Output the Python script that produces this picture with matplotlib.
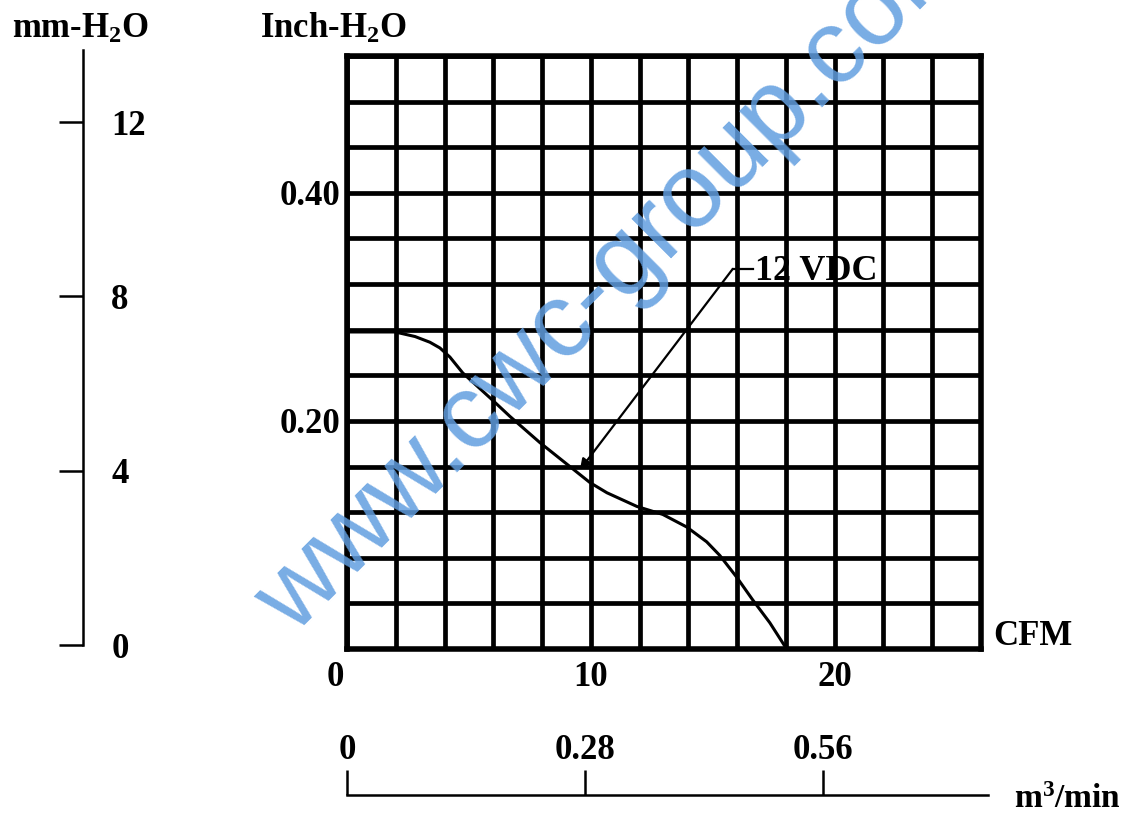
import matplotlib
matplotlib.use('Agg')
import matplotlib.pyplot as plt
import matplotlib.transforms as mtransforms
from matplotlib.ticker import MultipleLocator

# ---- data ----
cfm = [0, 1.97, 2.79, 3.40, 3.81, 4.22, 4.75, 5.98, 6.68, 7.91, 9.14, 9.96,
       10.66, 11.89, 12.95, 13.93, 14.75, 15.29, 15.98, 16.64, 17.34, 18.03]
inch_h2o = [0.278, 0.278, 0.274, 0.269, 0.264, 0.256, 0.242, 0.218, 0.204,
            0.181, 0.160, 0.146, 0.137, 0.125, 0.118, 0.107, 0.094, 0.082,
            0.063, 0.043, 0.023, 0.0]
series_label = '12 VDC'
cfm_ticks = [0, 10, 20]
cfm_labels = ['0', '10', '20']
inch_ticks = [0.20, 0.40]
inch_labels = ['0.20', '0.40']
mm_ticks = [0, 4, 8, 12]
mm_labels = ['0', '4', '8', '12']
m3_ticks = [0, 0.28, 0.56]
m3_labels = ['0', '0.28', '0.56']
watermark = 'www.cwc-group.com'

plt.rcParams['font.family'] = ['Liberation Serif', 'DejaVu Serif']
plt.rcParams['font.weight'] = 'bold'
plt.rcParams['mathtext.fontset'] = 'custom'
plt.rcParams['mathtext.rm'] = 'Liberation Serif:bold'
plt.rcParams['mathtext.it'] = 'Liberation Serif:bold:italic'
plt.rcParams['mathtext.bf'] = 'Liberation Serif:bold'

W, H = 1134, 814
FS = 25
fig = plt.figure(figsize=(W / 100, H / 100), dpi=100)


def rect(x0, y0, x1, y1):
    return [x0 / W, 1 - y1 / H, (x1 - x0) / W, (y1 - y0) / H]


def px(x, y):
    return x / W, 1 - y / H


# ---- main grid axes ----
ax = fig.add_axes(rect(347, 56, 981, 649))
ax.set_xlim(0, 26)
ax.set_ylim(0, 0.52)
ax.xaxis.set_minor_locator(MultipleLocator(2))
ax.yaxis.set_minor_locator(MultipleLocator(0.04))
ax.set_xticks(cfm_ticks)
ax.set_yticks(inch_ticks)
ax.set_yticklabels(inch_labels, fontsize=FS, fontweight='bold')
ax.set_xticklabels([])
ax.grid(which='both', color='black', lw=3.4)
ax.tick_params(which='both', length=0)
ax.tick_params(axis='y', pad=5)
for s in ax.spines.values():
    s.set_linewidth(4)
    s.set_color('black')

ax.plot(cfm, inch_h2o, color='black', lw=2.2, zorder=3,
        solid_capstyle='round', solid_joinstyle='round')

# CFM labels under the grid
blend = mtransforms.blended_transform_factory(ax.transData, ax.transAxes)
offsets = [-12, 0, 0]
for v, lab, dx in zip(cfm_ticks, cfm_labels, offsets):
    tr = blend + mtransforms.ScaledTranslation(dx / 100, -28 / 100, fig.dpi_scale_trans)
    ax.text(v, 0, lab, transform=tr, ha='center', va='center',
            fontsize=FS, fontweight='bold', clip_on=False)

# annotation
ax.annotate('', xy=(9.55, 0.157), xytext=(15.82, 0.3333),
            arrowprops=dict(arrowstyle='-|>', color='black', lw=1.6,
                            mutation_scale=16, shrinkA=0, shrinkB=0),
            zorder=4)
ax.plot([15.82, 16.64], [0.3333, 0.3333], color='black', lw=1.6, zorder=4)
ax.text(16.72, 0.3307, series_label, ha='left', va='center', fontsize=FS + 1,
        fontweight='bold', zorder=5)

# ---- left mm-H2O axis ----
axm = fig.add_axes(rect(83, 50, 103, 645))
axm.set_ylim(0, (645 - 50) / 43.58)
axm.set_xlim(0, 1)
axm.patch.set_visible(False)
for k in ['top', 'right', 'bottom']:
    axm.spines[k].set_visible(False)
axm.spines['left'].set_linewidth(1.8)
axm.set_xticks([])
axm.set_yticks(mm_ticks)
axm.set_yticklabels(mm_labels, fontsize=FS, fontweight='bold')
axm.tick_params(axis='y', direction='out', length=17, width=1.8,
                left=True, right=False, labelleft=False, labelright=True, pad=-11)
for lab in axm.get_yticklabels():
    lab.set_horizontalalignment('left')

# ---- bottom m3/min axis ----
ax3 = fig.add_axes(rect(347, 770, 988, 795))
ax3.set_xlim(0, (988 - 347) / 850)
ax3.set_ylim(0, 1)
ax3.patch.set_visible(False)
for k in ['top', 'right', 'left']:
    ax3.spines[k].set_visible(False)
ax3.spines['bottom'].set_linewidth(1.8)
ax3.set_yticks([])
ax3.set_xticks(m3_ticks)
ax3.set_xticklabels(m3_labels, fontsize=FS, fontweight='bold')
ax3.tick_params(axis='x', direction='in', length=18, width=1.8,
                bottom=True, top=False, labelbottom=False, labeltop=True, pad=2)

# ---- axis titles ----
fig.text(*px(12, 38), 'mm-H$_2$O', ha='left', va='baseline', fontsize=FS, fontweight='bold')
fig.text(*px(260, 38), 'Inch-H$_2$O', ha='left', va='baseline', fontsize=FS, fontweight='bold')
fig.text(*px(993, 645), 'CFM', ha='left', va='baseline', fontsize=FS, fontweight='bold')
fig.text(*px(1014, 808), 'm$^3$/min', ha='left', va='baseline', fontsize=FS - 1, fontweight='bold')

# ---- watermark ----
fig.text(*px(294, 636), watermark, rotation=45, rotation_mode='anchor',
         ha='left', va='baseline', fontsize=76, family='Liberation Sans',
         fontweight='normal', color=(0.38, 0.62, 0.88), alpha=0.85, zorder=10)

fig.savefig('out.png', dpi=100)
